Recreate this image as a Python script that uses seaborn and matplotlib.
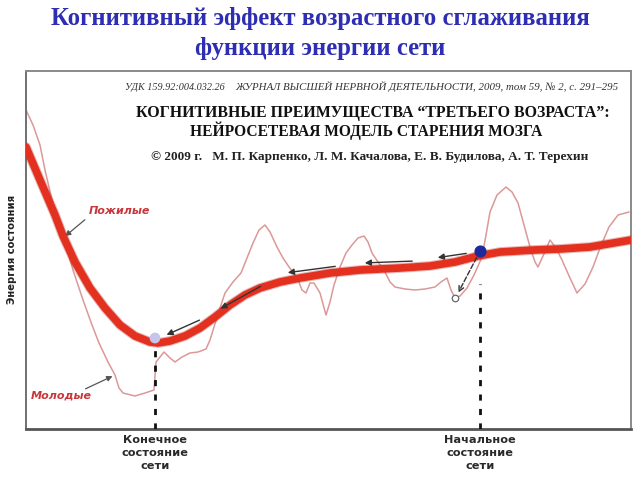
import matplotlib
matplotlib.use("Agg")
import matplotlib.pyplot as plt
import seaborn as sns
import pandas as pd
import numpy as np

# ---- data (x = position, y = state energy) ----
old_x = [0, 14, 29, 37, 49, 64, 79, 94, 109, 124, 132, 144, 159, 174, 189, 204, 219, 234, 254, 274,
         304, 334, 374, 404, 429, 452, 474, 508, 534, 564, 605]
old_y = [282, 249, 214, 193, 167, 141, 121, 104, 93, 87, 86, 88, 93, 101, 112, 124, 134, 141, 147, 151,
         156, 159, 161, 163, 167, 173, 177, 179, 180, 182, 189]

young_x = [0, 7, 14, 19, 26, 37, 47, 57, 66, 73, 82, 89, 93, 97, 109, 119, 128, 130, 138, 144, 149, 156,
           164, 172, 180, 184, 188, 194, 199, 207, 215, 221, 227, 233, 239, 244, 251, 257, 263, 271, 276,
           280, 284, 288, 294, 300, 304, 308, 314, 320, 326, 332, 338, 342, 346, 352, 358, 364, 369, 379,
           389, 399, 409, 415, 421, 425, 429, 434, 441, 448, 456, 460, 464, 471, 480, 486, 492, 498, 504,
           509, 512, 517, 524, 530, 536, 544, 551, 559, 567, 574, 583, 592, 603]
young_y = [319, 304, 284, 259, 229, 194, 159, 129, 104, 86, 67, 54, 41, 36, 33, 36, 39, 67, 77, 71, 67,
           72, 76, 77, 80, 89, 102, 121, 136, 147, 156, 171, 186, 199, 204, 197, 182, 171, 162, 152, 139,
           136, 146, 146, 136, 114, 127, 144, 162, 176, 184, 191, 193, 187, 176, 167, 159, 147, 142, 140,
           139, 140, 142, 147, 151, 139, 131, 133, 141, 154, 172, 194, 217, 234, 242, 237, 226, 204, 182,
           167, 162, 173, 189, 181, 169, 151, 136, 145, 162, 181, 202, 214, 217]

end_state_x = 129
start_state_x = 454
start_dot_y = 178
end_dot_y = 91
perturbed_x = 429
perturbed_y = 131

arrow_tail_x = [443, 389, 312, 237, 176]
arrow_tail_y = [176, 168, 163, 144, 110]
arrow_head_x = [409, 336, 259, 192, 138]
arrow_head_y = [171, 166, 156, 119, 93]

old_label = "Пожилые"
young_label = "Молодые"
ylabel = "Энергия состояния"
end_label = "Конечное\nсостояние\nсети"
start_label = "Начальное\nсостояние\nсети"
title_lines = ["Когнитивный эффект возрастного сглаживания", "функции энергии сети"]

sns.set_theme(style="white")
plt.rcParams['font.family'] = ['DejaVu Sans']

fig = plt.figure(figsize=(6.4, 4.8), dpi=100)
W, H = 640, 480
ax = fig.add_axes([26 / W, 1 - 429 / H, (631 - 26) / W, (429 - 71) / H])

df_old = pd.DataFrame({"x": old_x, "y": old_y})
df_young = pd.DataFrame({"x": young_x, "y": young_y})

sns.lineplot(data=df_young, x="x", y="y", ax=ax, color="#dc9898", linewidth=1.1, sort=False, zorder=2)
sns.lineplot(data=df_old, x="x", y="y", ax=ax, color="#a82018", linewidth=7.0, sort=False, zorder=3, alpha=0.3)
sns.lineplot(data=df_old, x="x", y="y", ax=ax, color="#e3301f", linewidth=5.5, sort=False, zorder=4)

ax.set_xlim(0, 605)
ax.set_ylim(0, 358)
ax.set_xticks([])
ax.set_yticks([])
ax.set_xlabel("")
ax.set_ylabel("")
for s in ["top", "right"]:
    ax.spines[s].set_color("#8a8a8a")
    ax.spines[s].set_linewidth(1.4)
ax.spines["left"].set_color("#707070")
ax.spines["left"].set_linewidth(1.4)
ax.spines["bottom"].set_color("#555555")
ax.spines["bottom"].set_linewidth(2.0)

# dashed state lines
ax.plot([end_state_x, end_state_x], [0, 83], color="#111111", lw=2.0, ls=(0, (2.2, 3)), zorder=5)
ax.plot([start_state_x, start_state_x], [0, 145], color="#111111", lw=2.0, ls=(0, (2.2, 3)), zorder=5)

# arrows along the curve
for tx, ty, hx, hy in zip(arrow_tail_x, arrow_tail_y, arrow_head_x, arrow_head_y):
    ax.annotate("", xy=(hx, hy), xytext=(tx, ty),
                arrowprops=dict(arrowstyle="-|>", color="#333333", lw=1.0, mutation_scale=9), zorder=6)

# dashed perturbation arrow
ax.annotate("", xy=(perturbed_x + 2, perturbed_y + 3), xytext=(start_state_x - 2, start_dot_y - 4),
            arrowprops=dict(arrowstyle="->", color="#333333", lw=1.0, ls="--", mutation_scale=9), zorder=6)

# dots
ax.scatter([start_state_x], [start_dot_y], s=60, color="#1c2a9c", zorder=7, edgecolor="#1c2a9c")
ax.scatter([end_state_x], [end_dot_y], s=60, color="#c4c4ec", zorder=7, edgecolor="none")
ax.scatter([perturbed_x], [perturbed_y], s=22, color="white", zorder=7, edgecolor="#666666", linewidth=0.9)

# curve labels
ax.text(93, 218, old_label, color="#c8363a", fontsize=8, fontstyle="italic", fontweight="bold",
        ha="center", va="center", zorder=8)
ax.annotate("", xy=(37, 191), xytext=(61, 211),
            arrowprops=dict(arrowstyle="-|>", color="#555555", lw=0.9, mutation_scale=8))
ax.text(35, 33, young_label, color="#c8363a", fontsize=8, fontstyle="italic", fontweight="bold",
        ha="center", va="center", zorder=8)
ax.annotate("", xy=(89, 54), xytext=(57, 39),
            arrowprops=dict(arrowstyle="-|>", color="#555555", lw=0.9, mutation_scale=8))

# y label
ax.text(-14, 180, ylabel, rotation=90, ha="center", va="center", fontsize=7.2,
        fontweight="bold", color="#222222", clip_on=False)

# bottom state labels
ax.text(end_state_x, -6, end_label, ha="center", va="top", fontsize=8.2, fontweight="bold",
        color="#2a2a2a", linespacing=1.35, clip_on=False)
ax.text(start_state_x, -6, start_label, ha="center", va="top", fontsize=8.2, fontweight="bold",
        color="#2a2a2a", linespacing=1.35, clip_on=False)

# paper header inside the box
serif = ["Liberation Serif", "DejaVu Serif"]
ax.text(99, 342, "УДК 159.92:004.032.26", family=serif, fontstyle="italic", fontsize=7.3,
        color="#333333", ha="left", va="center")
ax.text(209, 342, "ЖУРНАЛ ВЫСШЕЙ НЕРВНОЙ ДЕЯТЕЛЬНОСТИ, 2009, том 59, № 2, с. 291–295", family=serif,
        fontstyle="italic", fontsize=7.85, color="#333333", ha="left", va="center")
ax.text(347, 316, "КОГНИТИВНЫЕ ПРЕИМУЩЕСТВА “ТРЕТЬЕГО ВОЗРАСТА”:", family=serif, fontweight="bold",
        fontsize=11.4, color="#111111", ha="center", va="center")
ax.text(340, 298, "НЕЙРОСЕТЕВАЯ МОДЕЛЬ СТАРЕНИЯ МОЗГА", family=serif, fontweight="bold",
        fontsize=11.2, color="#111111", ha="center", va="center")
ax.text(344, 272, "© 2009 г.   М. П. Карпенко, Л. М. Качалова, Е. В. Будилова, А. Т. Терехин", family=serif,
        fontweight="bold", fontsize=9.5, color="#222222", ha="center", va="center")

# main title
fig.text(0.5, 1 - 19 / H, title_lines[0], family=serif, fontweight="bold", fontsize=17.8,
         color="#2e2eb4", ha="center", va="center")
fig.text(0.5, 1 - 48 / H, title_lines[1], family=serif, fontweight="bold", fontsize=17.8,
         color="#2e2eb4", ha="center", va="center")

fig.savefig("out.png", dpi=100)
